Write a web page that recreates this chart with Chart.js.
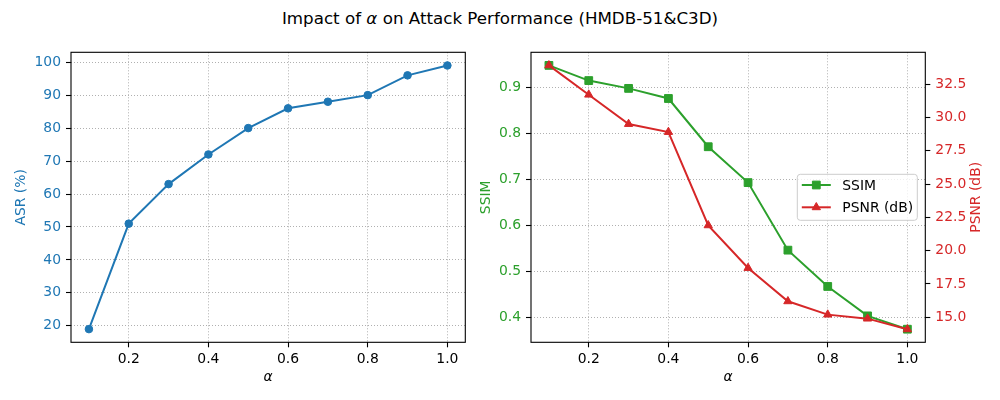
<!DOCTYPE html>
<html>
<head>
<meta charset="utf-8">
<script src="https://cdn.jsdelivr.net/npm/chart.js@4.4.0/dist/chart.umd.min.js"></script>
<style>
  html, body { margin: 0; padding: 0; background: #fff; }
  #wrap { position: relative; width: 1000px; height: 400px; overflow: hidden; }
  #title { position: absolute; left: 0; top: 8px; width: 1000px; text-align: center;
           font-family: 'DejaVu Sans'; font-size: 16.7px; line-height: 20px; color: #000; }
  canvas { position: absolute; top: 0; }
  #asr { left: 0; }
  #quality { left: 470px; }
</style>
</head>
<body>
<div id="wrap">
  <div id="title">Impact of <i>α</i> on Attack Performance (HMDB-51&amp;C3D)</div>
  <canvas id="asr" width="500" height="400"></canvas>
  <canvas id="quality" width="530" height="400"></canvas>
</div>
<script>
// values
const alphas = [0.1, 0.2, 0.3, 0.4, 0.5, 0.6, 0.7, 0.8, 0.9, 1.0];
const asr = [19, 51, 63, 72, 80, 86, 88, 90, 96, 99];
const ssim = [0.948, 0.915, 0.898, 0.876, 0.771, 0.693, 0.546, 0.467, 0.403, 0.374];
const psnr = [33.9, 31.7, 29.5, 28.9, 21.9, 18.7, 16.2, 15.2, 14.9, 14.1];

const alphaTicks = [0.2, 0.4, 0.6, 0.8, 1.0];
const asrTicks = [20, 30, 40, 50, 60, 70, 80, 90, 100];
const ssimTicks = [0.4, 0.5, 0.6, 0.7, 0.8, 0.9];
const psnrTicks = [15.0, 17.5, 20.0, 22.5, 25.0, 27.5, 30.0, 32.5];

const BLUE = '#1f77b4', GREEN = '#2ca02c', RED = '#d62728';
const FONT = "'DejaVu Sans'";

Chart.defaults.font.family = FONT;
Chart.defaults.font.size = 13.9;
Chart.defaults.color = '#000';

const pts = ys => alphas.map((a, i) => ({ x: a, y: ys[i] }));
const fixTicks = list => axis => { axis.ticks = list.map(v => ({ value: v })); };

// matplotlib style box round the plot area
const frame = {
  id: 'frame',
  afterDatasetsDraw(chart) {
    const { ctx, chartArea: a } = chart;
    ctx.save();
    ctx.setLineDash([]);
    ctx.strokeStyle = '#000';
    ctx.lineWidth = 1.1;
    ctx.strokeRect(a.left, a.top, a.right - a.left, a.bottom - a.top);
    ctx.restore();
  }
};

function xAxis() {
  return {
    type: 'linear', min: 0.055, max: 1.045,
    afterBuildTicks: fixTicks(alphaTicks),
    afterFit: s => { s.height = 57.7; },
    ticks: { autoSkip: false, maxRotation: 0, padding: 4, color: '#000', callback: v => v.toFixed(1) },
    grid: { color: '#b0b0b0', lineWidth: 1, tickLength: 5, tickColor: '#000', tickWidth: 1.1 },
    border: { display: false, dash: [1, 2] },
    title: { display: true, text: 'α', color: '#000', font: { style: 'italic', size: 13.9 }, padding: { top: 0, bottom: 14.4 } }
  };
}

new Chart(document.getElementById('asr'), {
  type: 'line',
  data: {
    datasets: [{
      label: 'ASR (%)',
      data: pts(asr),
      borderColor: BLUE, backgroundColor: BLUE,
      borderWidth: 2, tension: 0,
      pointStyle: 'circle', pointRadius: 3.8, pointBorderWidth: 1,
      pointBackgroundColor: BLUE, pointBorderColor: BLUE
    }]
  },
  options: {
    responsive: false, animation: false,
    layout: { padding: { top: 52.3, left: 0, right: 34.7, bottom: 0 } },
    plugins: { legend: { display: false }, tooltip: { enabled: false } },
    scales: {
      x: xAxis(),
      y: {
        type: 'linear', min: 15, max: 103,
        afterBuildTicks: fixTicks(asrTicks),
        afterFit: s => { s.width = 71; },
        ticks: { autoSkip: false, padding: 5, color: BLUE, callback: v => String(v) },
        grid: { color: '#b0b0b0', lineWidth: 1, tickLength: 5, tickColor: '#000', tickWidth: 1.1 },
        border: { display: false, dash: [1, 2] },
        title: { display: true, text: 'ASR (%)', color: BLUE, padding: { top: 13.4, bottom: 0 } }
      }
    }
  },
  plugins: [frame]
});

// legend with line + marker, like matplotlib
const lineLegend = {
  id: 'lineLegend',
  afterDraw(chart) {
    const { ctx, chartArea: a } = chart;
    const w = 120, h = 46;
    const x = a.right - 8 - w, y = (a.top + a.bottom) / 2 - h / 2;
    ctx.save();
    ctx.setLineDash([]);
    ctx.fillStyle = 'rgba(255,255,255,0.8)';
    ctx.strokeStyle = '#cccccc';
    ctx.lineWidth = 1;
    ctx.beginPath();
    ctx.roundRect(x, y, w, h, 3);
    ctx.fill();
    ctx.stroke();
    chart.data.datasets.forEach((ds, i) => {
      const cy = y + 10.7 + i * 22.3;
      ctx.strokeStyle = ds.borderColor;
      ctx.lineWidth = ds.borderWidth;
      ctx.beginPath();
      ctx.moveTo(x + 4.5, cy);
      ctx.lineTo(x + 33.5, cy);
      ctx.stroke();
      ctx.fillStyle = ds.borderColor;
      ctx.lineWidth = 1;
      Chart.helpers.drawPoint(ctx, { pointStyle: ds.pointStyle, radius: ds.pointRadius, borderWidth: 1, rotation: 0 }, x + 19, cy);
      ctx.fillStyle = '#000';
      ctx.font = '13.9px ' + FONT;
      ctx.textAlign = 'left';
      ctx.textBaseline = 'middle';
      ctx.fillText(ds.label, x + 45, cy + 1);
    });
    ctx.restore();
  }
};

// right axis title reads bottom to top in the reference
const psnrTitle = {
  id: 'psnrTitle',
  afterDraw(chart) {
    const { ctx, chartArea: a } = chart;
    const s = chart.scales.psnr;
    ctx.save();
    ctx.translate(s.right - 23.3, (a.top + a.bottom) / 2);
    ctx.rotate(-Math.PI / 2);
    ctx.textAlign = 'center';
    ctx.textBaseline = 'middle';
    ctx.fillStyle = RED;
    ctx.font = '13.9px ' + FONT;
    ctx.fillText('PSNR (dB)', 0, 0);
    ctx.restore();
  }
};

new Chart(document.getElementById('quality'), {
  type: 'line',
  data: {
    datasets: [{
      label: 'SSIM',
      data: pts(ssim),
      yAxisID: 'ssim', order: 2,
      borderColor: GREEN, backgroundColor: GREEN,
      borderWidth: 2, tension: 0,
      pointStyle: 'rect', pointRadius: 5.5, pointBorderWidth: 1,
      pointBackgroundColor: GREEN, pointBorderColor: GREEN
    }, {
      label: 'PSNR (dB)',
      data: pts(psnr),
      yAxisID: 'psnr', order: 1,
      borderColor: RED, backgroundColor: RED,
      borderWidth: 2, tension: 0,
      pointStyle: 'triangle', pointRadius: 4.8, pointBorderWidth: 1,
      pointBackgroundColor: RED, pointBorderColor: RED
    }]
  },
  options: {
    responsive: false, animation: false,
    layout: { padding: { top: 52.3, left: 0, right: 0, bottom: 0 } },
    plugins: { legend: { display: false }, tooltip: { enabled: false } },
    scales: {
      x: xAxis(),
      ssim: {
        type: 'linear', position: 'left', min: 0.3455, max: 0.9765,
        afterBuildTicks: fixTicks(ssimTicks),
        afterFit: s => { s.width = 61; },
        ticks: { autoSkip: false, padding: 5, color: GREEN, callback: v => v.toFixed(1) },
        grid: { color: '#b0b0b0', lineWidth: 1, tickLength: 5, tickColor: '#000', tickWidth: 1.1 },
        border: { display: false, dash: [1, 2] },
        title: { display: true, text: 'SSIM', color: GREEN, padding: { top: 8.4, bottom: 0 } }
      },
      psnr: {
        type: 'linear', position: 'right', min: 13.125, max: 34.88,
        afterBuildTicks: fixTicks(psnrTicks),
        afterFit: s => { s.width = 74.7; },
        ticks: { autoSkip: false, padding: 5, color: RED, callback: v => v.toFixed(1) },
        grid: { drawOnChartArea: false, tickLength: 5, tickColor: '#000', tickWidth: 1.1 },
        border: { display: false }
      }
    }
  },
  plugins: [frame, lineLegend, psnrTitle]
});
</script>
</body>
</html>
